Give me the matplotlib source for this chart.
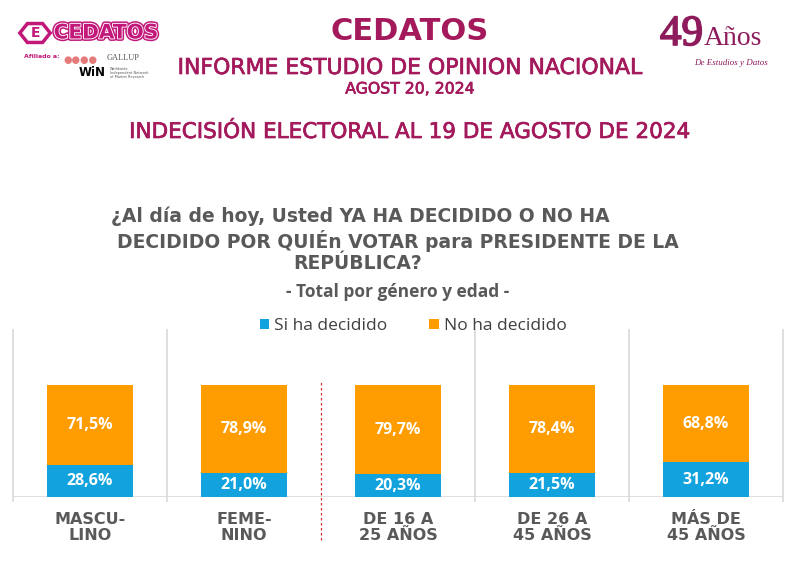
import matplotlib
matplotlib.use("Agg")
import matplotlib.pyplot as plt
import matplotlib.patheffects as pe
from matplotlib.patches import RegularPolygon
import numpy as np

categories = ["MASCU-\nLINO", "FEME-\nNINO", "DE 16 A\n25 AÑOS", "DE 26 A\n45 AÑOS", "MÁS DE\n45 AÑOS"]
si_decidido = [28.6, 21.0, 20.3, 21.5, 31.2]
no_decidido = [71.5, 78.9, 79.7, 78.4, 68.8]
series_names = ["Si ha decidido", "No ha decidido"]

BLUE = "#12A3DE"
ORANGE = "#FF9C00"
MAG = "#A3195B"
GRAY = "#595959"

W, H = 800, 575
fig = plt.figure(figsize=(8, 5.75), dpi=100)
fig.patch.set_facecolor("white")

def fy(py):
    return 1 - py / H

def fx(px):
    return px / W

thick = [pe.withStroke(linewidth=0.5, foreground=MAG)]

# Titles
fig.text(fx(410), fy(31), "CEDATOS", ha="center", va="center", fontsize=22, fontweight="bold",
         color=MAG, family="DejaVu Sans")
fig.text(fx(410), fy(68), "INFORME ESTUDIO DE OPINION NACIONAL", ha="center", va="center",
         fontsize=15.8, color=MAG, family="DejaVu Sans", path_effects=thick)
fig.text(fx(410), fy(89), "AGOST 20, 2024", ha="center", va="center", fontsize=11.3,
         color=MAG, family="DejaVu Sans", path_effects=thick)
fig.text(fx(410), fy(132), "INDECISIÓN ELECTORAL AL 19 DE AGOSTO DE 2024", ha="center", va="center",
         fontsize=15.5, color=MAG, family="DejaVu Sans", path_effects=thick)

# Question
q_lines = ["¿Al día de hoy, Usted YA HA DECIDIDO O NO HA",
           "DECIDIDO POR QUIÉn VOTAR para PRESIDENTE DE LA",
           "REPÚBLICA?"]
q_centers = [360, 398, 358]
for line, cx, py in zip(q_lines, q_centers, [216, 241, 264]):
    fig.text(fx(cx), fy(py), line, ha="center", va="center", fontsize=13.5, fontweight="bold",
             color=GRAY, family="DejaVu Sans")
fig.text(fx(398), fy(292), "- Total por género y edad -", ha="center", va="center", fontsize=12.5,
         fontweight="bold", color=GRAY, family="Open Sans")

# Left logo
hexp = RegularPolygon((fx(35), fy(33)), numVertices=6, radius=0.019, orientation=np.pi / 6,
                      transform=fig.transFigure, facecolor="white", edgecolor="#C2187A", lw=2.5)
fig.patches.append(hexp)
fig.text(fx(35), fy(33), "E", ha="center", va="center", fontsize=10, fontweight="bold",
         color="#C2187A", family="DejaVu Sans")
fig.text(fx(106), fy(33), "CEDATOS", ha="center", va="center", fontsize=14.5, fontweight="heavy",
         color="#C2187A", family="DejaVu Sans",
         path_effects=[pe.Stroke(linewidth=3.5, foreground="#C2187A"),
                       pe.Stroke(linewidth=1.3, foreground="white"), pe.Normal()])
fig.text(fx(42), fy(57), "Afiliado a:", ha="center", va="center", fontsize=4.5, fontweight="bold",
         color="#C2187A", family="DejaVu Sans")
fig.text(fx(80), fy(60), "●●●●", ha="center", va="center", fontsize=7, color="#E57A7A")
fig.text(fx(123), fy(58), "GALLUP", ha="center", va="center", fontsize=6, color="#555555",
         family="Liberation Serif")
fig.text(fx(92), fy(73), "WiN", ha="center", va="center", fontsize=8.5, fontweight="bold",
         color="black", family="DejaVu Sans")
fig.text(fx(110), fy(73), "Worldwide\nIndependent Network\nof Market Research", ha="left", va="center",
         fontsize=2.5, color="#555555", linespacing=1.0)

# Right logo
fig.text(fx(703), fy(45), "49", ha="right", va="baseline", fontsize=31,
         color="#8E1B5C", family="Liberation Serif",
         path_effects=[pe.withStroke(linewidth=1.2, foreground="#8E1B5C")])
fig.text(fx(704), fy(45), "Años", ha="left", va="baseline", fontsize=20,
         color="#8E1B5C", family="Liberation Serif")
fig.text(fx(731), fy(63), "De Estudios y Datos", ha="center", va="center", fontsize=6.5,
         style="italic", color="#8E1B5C", family="Liberation Serif")

# Chart axes
ax = fig.add_axes([fx(13), fy(497), 770 / W, 168 / H])
x = np.arange(len(categories))
bw = 0.56
ax.bar(x, si_decidido, bw, color=BLUE, label=series_names[0], zorder=3)
ax.bar(x, no_decidido, bw, bottom=si_decidido, color=ORANGE, label=series_names[1], zorder=3)
for i in range(len(x)):
    ax.text(x[i], si_decidido[i] / 2, f"{si_decidido[i]:.1f}%".replace(".", ","), ha="center",
            va="center", color="white", fontsize=11.5, fontweight="bold", family="Open Sans", zorder=4)
    ax.text(x[i], si_decidido[i] + no_decidido[i] / 2, f"{no_decidido[i]:.1f}%".replace(".", ","),
            ha="center", va="center", color="white", fontsize=11.5, fontweight="bold",
            family="Open Sans", zorder=4)

ax.set_xlim(-0.5, len(categories) - 0.5)
ax.set_ylim(0, 150)
for s in ax.spines.values():
    s.set_visible(False)
ax.set_yticks([])
ax.set_xticks(x)
ax.set_xticklabels(categories, fontsize=11.5, fontweight="bold", color=GRAY, family="DejaVu Sans",
                   linespacing=1.1)
ax.tick_params(axis="x", length=0, pad=11)
ax.axhline(0, color="#D9D9D9", lw=1.2, zorder=2)
for b in [-0.5, 0.5, 2.5, 3.5, 4.5]:
    ax.vlines(b, -4.5, 150, color="#D9D9D9", lw=1.2, clip_on=False, zorder=1)
ax.vlines(1.5, -38, 103, color="#D9302F", lw=0.9, linestyles=(0, (2, 2)), clip_on=False, zorder=1)

leg = fig.legend(loc="center left", bbox_to_anchor=(fx(244), fy(326)), ncol=2, frameon=False,
                 prop={"family": "Open Sans", "size": 12.5}, handlelength=0.55, handleheight=0.55,
                 columnspacing=2.4, handletextpad=0.3)
for t in leg.get_texts():
    t.set_color("#404040")

fig.savefig("out.png", dpi=100, facecolor="white")
